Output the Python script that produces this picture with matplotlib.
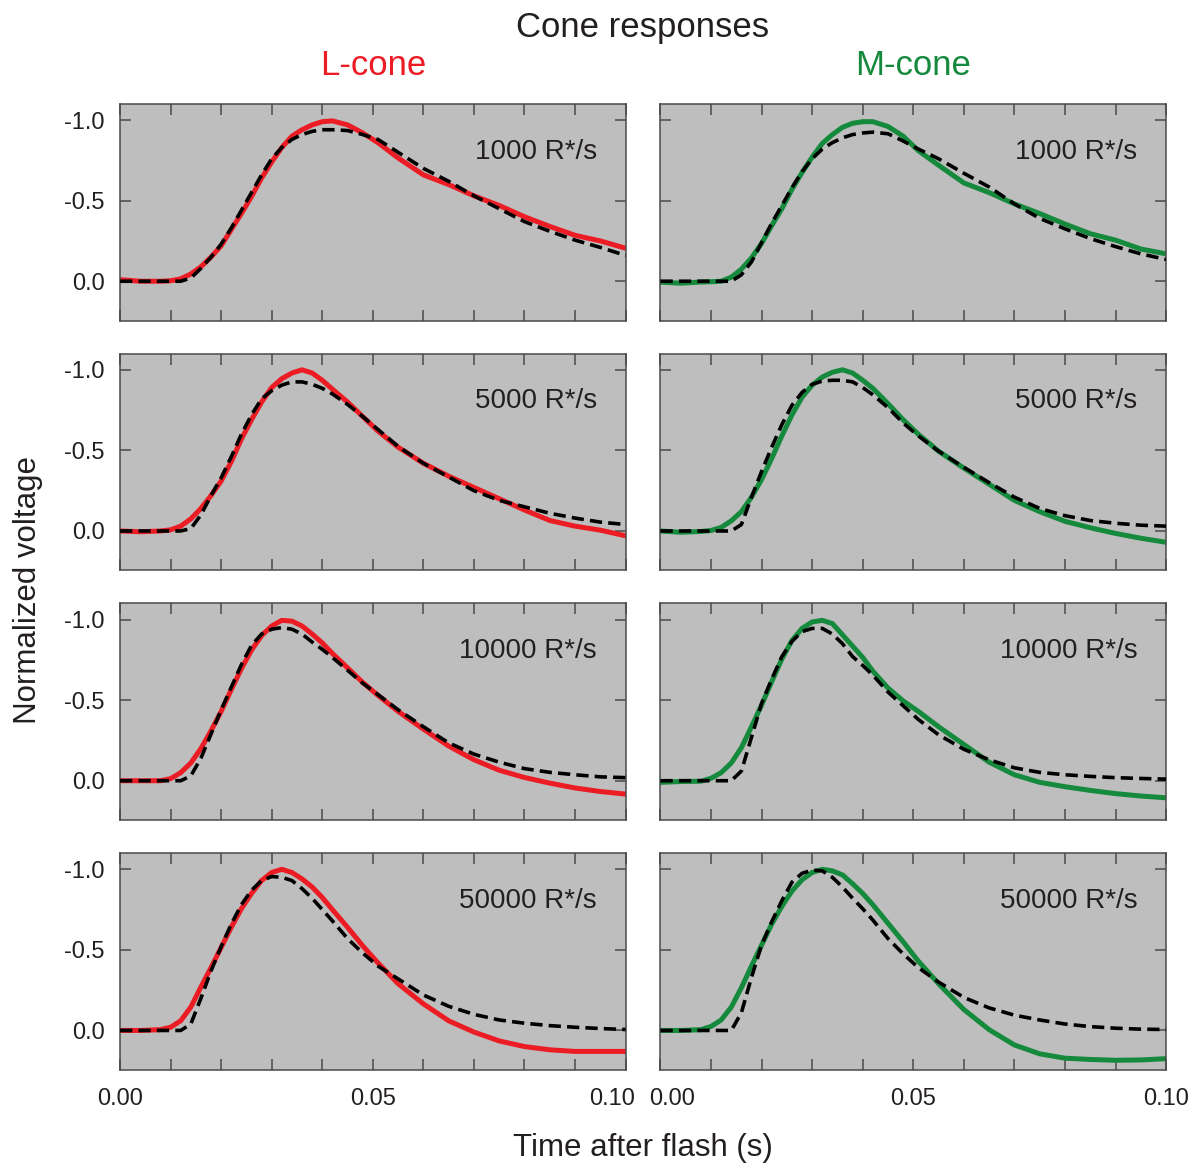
import numpy as np
import matplotlib
matplotlib.use("Agg")
import matplotlib.pyplot as plt
import matplotlib.transforms as mtransforms

plt.rcParams['font.family'] = ['Liberation Sans', 'DejaVu Sans']

# time after flash (s), shared by all traces
t = [0.000, 0.004, 0.008, 0.010, 0.012, 0.014, 0.016, 0.018, 0.020, 0.022, 0.024,
     0.026, 0.028, 0.030, 0.032, 0.034, 0.036, 0.038, 0.040, 0.042, 0.045, 0.048,
     0.051, 0.055, 0.060, 0.065, 0.070, 0.075, 0.080, 0.085, 0.090, 0.095, 0.100]

intensities = ["1000 R*/s", "5000 R*/s", "10000 R*/s", "50000 R*/s"]

# measured L-cone responses (normalized voltage)
l_1000 = [-0.01, 0.0, 0.0, -0.003, -0.015, -0.045, -0.09, -0.15, -0.22, -0.32, -0.42,
          -0.525, -0.64, -0.74, -0.83, -0.90, -0.94, -0.97, -0.99, -0.995, -0.97, -0.92,
          -0.86, -0.765, -0.66, -0.60, -0.53, -0.47, -0.40, -0.34, -0.285, -0.25, -0.205]
l_5000 = [0.0, 0.005, 0.0, -0.007, -0.03, -0.075, -0.14, -0.22, -0.31, -0.43, -0.57,
          -0.69, -0.80, -0.89, -0.945, -0.98, -1.0, -0.98, -0.935, -0.88, -0.80, -0.71,
          -0.62, -0.52, -0.42, -0.34, -0.27, -0.20, -0.13, -0.065, -0.03, -0.005, 0.03]
l_10000 = [0.0, 0.0, 0.0, -0.013, -0.05, -0.11, -0.20, -0.31, -0.43, -0.565, -0.695,
           -0.81, -0.90, -0.96, -0.995, -0.99, -0.96, -0.91, -0.855, -0.79, -0.70, -0.61,
           -0.53, -0.43, -0.32, -0.215, -0.13, -0.065, -0.02, 0.015, 0.045, 0.067, 0.083]
l_50000 = [0.0, 0.0, -0.005, -0.02, -0.06, -0.145, -0.27, -0.39, -0.515, -0.64, -0.755,
           -0.85, -0.93, -0.98, -1.0, -0.98, -0.94, -0.89, -0.825, -0.75, -0.64, -0.525,
           -0.42, -0.29, -0.165, -0.06, 0.01, 0.065, 0.10, 0.12, 0.13, 0.13, 0.13]

# model fits for the L-cone
l_1000_fit = [0.0, 0.0, 0.0, 0.0, 0.0, -0.02, -0.08, -0.15, -0.23, -0.33, -0.44,
              -0.55, -0.66, -0.76, -0.83, -0.88, -0.91, -0.93, -0.94, -0.94, -0.935, -0.91,
              -0.88, -0.80, -0.70, -0.62, -0.53, -0.45, -0.37, -0.31, -0.255, -0.21, -0.16]
l_5000_fit = [0.0, 0.0, 0.0, 0.0, 0.0, -0.015, -0.10, -0.22, -0.33, -0.46, -0.60,
              -0.72, -0.82, -0.87, -0.905, -0.925, -0.925, -0.91, -0.885, -0.85, -0.785, -0.71,
              -0.63, -0.525, -0.42, -0.335, -0.25, -0.19, -0.15, -0.11, -0.08, -0.055, -0.04]
l_10000_fit = [0.0, 0.0, 0.0, 0.0, 0.0, -0.03, -0.14, -0.29, -0.44, -0.58, -0.72,
               -0.84, -0.91, -0.94, -0.95, -0.94, -0.91, -0.86, -0.815, -0.765, -0.685, -0.605,
               -0.535, -0.44, -0.335, -0.235, -0.165, -0.115, -0.075, -0.052, -0.037, -0.024, -0.019]
l_50000_fit = [0.0, 0.0, 0.0, 0.0, 0.0, -0.04, -0.20, -0.37, -0.52, -0.66, -0.78,
               -0.87, -0.93, -0.955, -0.95, -0.93, -0.88, -0.82, -0.75, -0.68, -0.57, -0.48,
               -0.40, -0.32, -0.22, -0.15, -0.10, -0.065, -0.045, -0.03, -0.02, -0.012, -0.006]

# measured M-cone responses
m_1000 = [0.006, 0.012, 0.005, 0.003, 0.0, -0.025, -0.075, -0.145, -0.235, -0.345, -0.45,
          -0.57, -0.675, -0.77, -0.855, -0.91, -0.955, -0.98, -0.99, -0.99, -0.96, -0.90,
          -0.81, -0.72, -0.61, -0.55, -0.48, -0.42, -0.355, -0.295, -0.255, -0.20, -0.17]
m_5000 = [0.0, 0.008, 0.003, -0.003, -0.022, -0.063, -0.12, -0.21, -0.32, -0.45, -0.59,
          -0.72, -0.83, -0.905, -0.955, -0.985, -1.0, -0.98, -0.935, -0.885, -0.79, -0.69,
          -0.60, -0.495, -0.39, -0.29, -0.19, -0.12, -0.06, -0.02, 0.015, 0.045, 0.07]
m_10000 = [0.01, 0.005, 0.003, -0.015, -0.05, -0.11, -0.205, -0.335, -0.47, -0.615, -0.755,
           -0.87, -0.945, -0.985, -0.995, -0.975, -0.905, -0.835, -0.765, -0.68, -0.575, -0.495,
           -0.43, -0.335, -0.225, -0.115, -0.037, 0.01, 0.037, 0.06, 0.08, 0.095, 0.106]
m_50000 = [0.0, 0.0, -0.005, -0.025, -0.065, -0.145, -0.265, -0.40, -0.53, -0.66, -0.77,
           -0.865, -0.935, -0.98, -1.0, -0.99, -0.965, -0.91, -0.85, -0.78, -0.665, -0.55,
           -0.43, -0.29, -0.13, -0.005, 0.09, 0.145, 0.172, 0.18, 0.185, 0.183, 0.175]

# model fits for the M-cone
m_1000_fit = [0.0, 0.0, 0.0, 0.0, 0.0, 0.0, -0.04, -0.12, -0.24, -0.36, -0.47,
              -0.58, -0.68, -0.76, -0.82, -0.86, -0.89, -0.91, -0.92, -0.925, -0.915, -0.87,
              -0.82, -0.76, -0.67, -0.585, -0.48, -0.39, -0.325, -0.265, -0.215, -0.17, -0.135]
m_5000_fit = [0.0, 0.0, 0.0, 0.0, 0.0, 0.0, -0.04, -0.21, -0.37, -0.52, -0.66,
              -0.78, -0.86, -0.91, -0.93, -0.935, -0.935, -0.925, -0.89, -0.845, -0.765, -0.67,
              -0.59, -0.495, -0.395, -0.30, -0.21, -0.14, -0.095, -0.065, -0.048, -0.036, -0.03]
m_10000_fit = [0.0, 0.0, 0.0, 0.0, 0.0, 0.0, -0.06, -0.27, -0.48, -0.63, -0.77,
               -0.865, -0.925, -0.945, -0.945, -0.91, -0.85, -0.77, -0.715, -0.655, -0.55, -0.465,
               -0.38, -0.285, -0.195, -0.13, -0.08, -0.052, -0.037, -0.027, -0.019, -0.014, -0.01]
m_50000_fit = [0.0, 0.0, 0.0, 0.0, 0.0, 0.0, -0.11, -0.33, -0.53, -0.675, -0.805,
               -0.92, -0.975, -0.995, -0.99, -0.95, -0.89, -0.82, -0.755, -0.685, -0.57, -0.475,
               -0.39, -0.30, -0.205, -0.14, -0.095, -0.065, -0.04, -0.024, -0.014, -0.008, -0.006]

l_data = [l_1000, l_5000, l_10000, l_50000]
l_fits = [l_1000_fit, l_5000_fit, l_10000_fit, l_50000_fit]
m_data = [m_1000, m_5000, m_10000, m_50000]
m_fits = [m_1000_fit, m_5000_fit, m_10000_fit, m_50000_fit]

red = "#ec1c24"
green = "#15893c"
frame = "#4a4a4a"
txt = "#231f20"

fig, axes = plt.subplots(4, 2, figsize=(12.04, 11.64), dpi=100)
fig.subplots_adjust(left=0.0997, right=0.9685, top=0.9107, bottom=0.0808,
                    wspace=0.069, hspace=0.152)

for col, (data, fits, color) in enumerate([(l_data, l_fits, red), (m_data, m_fits, green)]):
    for row in range(4):
        ax = axes[row, col]
        ax.set_facecolor("#bebebe")
        ax.plot(t, data[row], color=color, lw=3.6, solid_capstyle="round", zorder=2)
        ax.plot(t, fits[row], color="black", lw=2.6, dashes=(3.4, 1.7), zorder=3)
        ax.set_xlim(0, 0.1)
        ax.set_ylim(0.245, -1.10)
        ax.set_yticks([-1.0, -0.5, 0.0])
        ax.set_xticks(np.arange(0, 0.1001, 0.01))
        ax.tick_params(direction="in", length=8, width=1.1, color=frame,
                       top=True, right=True, labelsize=17, labelcolor=txt, pad=11)
        for s in ax.spines.values():
            s.set_color(frame)
            s.set_linewidth(1.1)
        if col == 0:
            ax.set_yticklabels(["-1.0", "-0.5", "0.0"])
        else:
            ax.set_yticklabels([])
        if row == 3:
            ax.set_xticklabels(["0.00", "", "", "", "", "0.05", "", "", "", "", "0.10"])
            ax.tick_params(axis="x", pad=13)
        else:
            ax.set_xticklabels([])
        ax.text(0.943, 0.78, intensities[row], transform=ax.transAxes,
                ha="right", va="center", fontsize=20, color=txt)

# nudge the two inner time labels apart so they don't collide
shift_left = mtransforms.ScaledTranslation(-0.14, 0, fig.dpi_scale_trans)
shift_right = mtransforms.ScaledTranslation(0.12, 0, fig.dpi_scale_trans)
lab = axes[3, 0].get_xticklabels()[-1]
lab.set_transform(lab.get_transform() + shift_left)
lab = axes[3, 1].get_xticklabels()[0]
lab.set_transform(lab.get_transform() + shift_right)

fig.text(0.534, 0.976, "Cone responses", ha="center", va="center", fontsize=25, color=txt)
fig.text(0.310, 0.944, "L-cone", ha="center", va="center", fontsize=25, color=red)
fig.text(0.758, 0.944, "M-cone", ha="center", va="center", fontsize=25, color=green)
fig.text(0.534, 0.0137, "Time after flash (s)", ha="center", va="center", fontsize=22.5, color=txt)
fig.text(0.023, 0.493, "Normalized voltage", ha="center", va="center", rotation=90,
         fontsize=22.5, color=txt)

fig.savefig("out.png", dpi=100, facecolor="white")
